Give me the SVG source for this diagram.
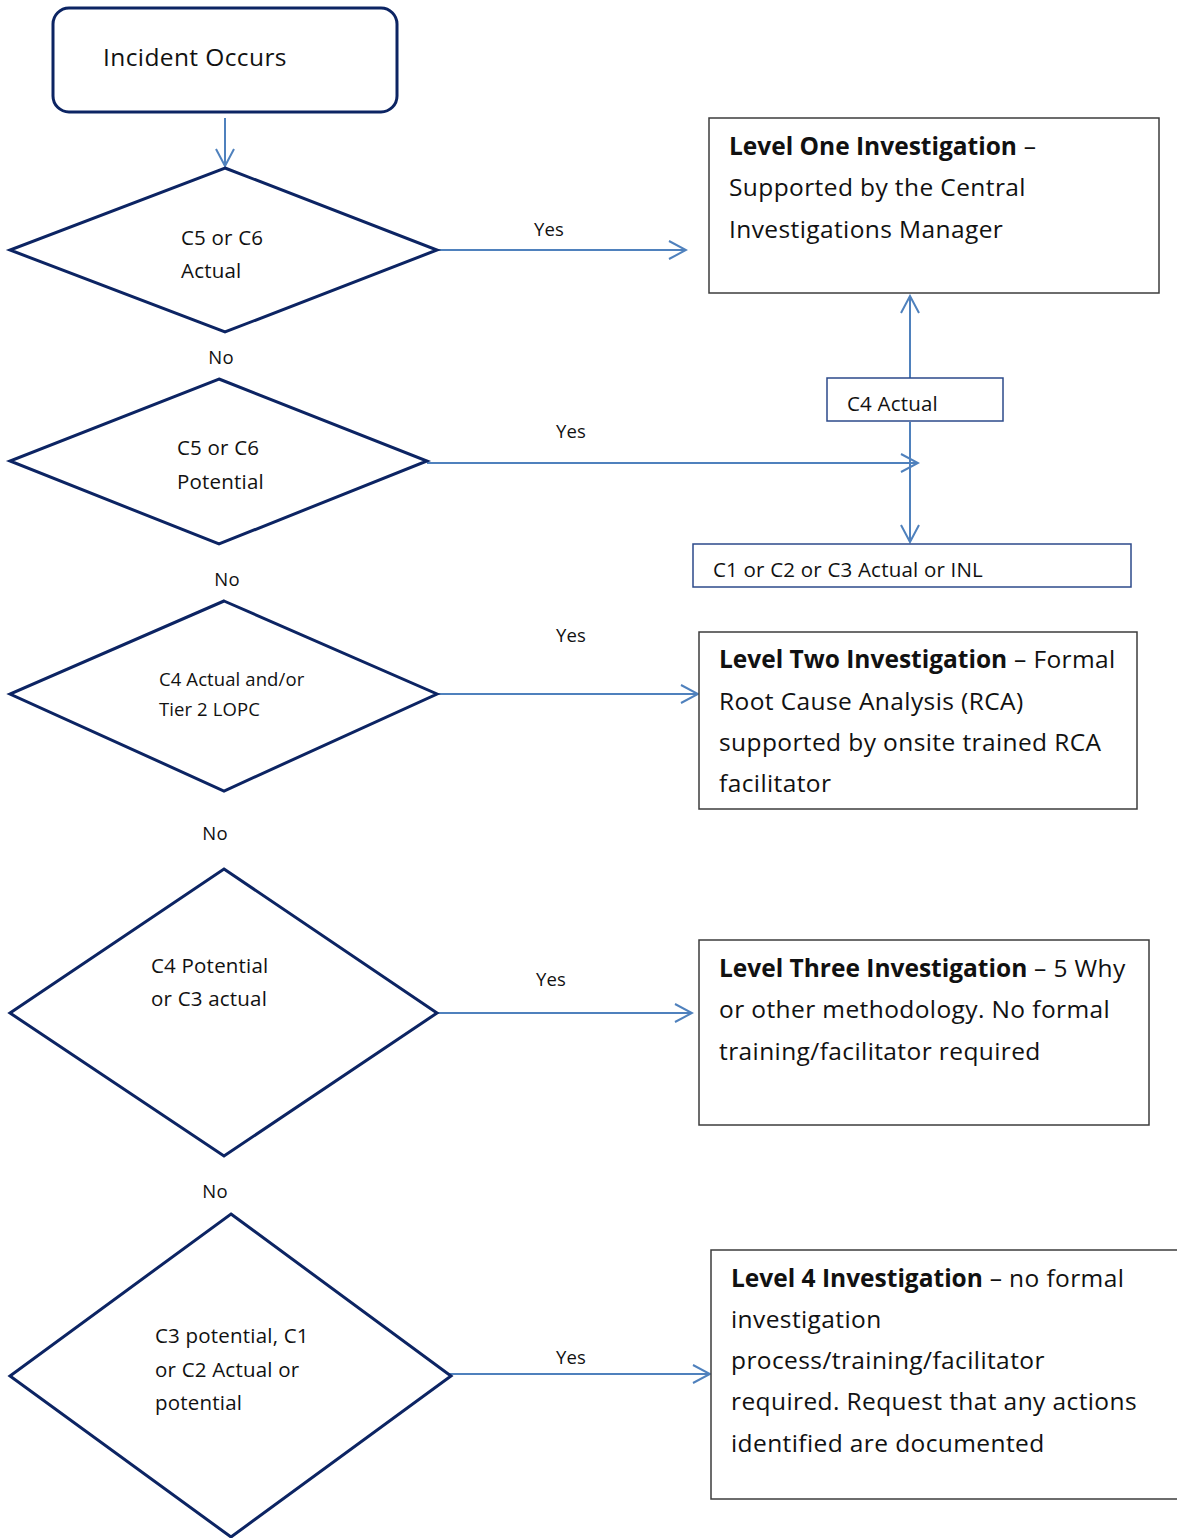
<svg xmlns="http://www.w3.org/2000/svg" width="1177" height="1538" viewBox="0 0 1177 1538">
<defs>
<style>
.t{font-family:"Open Sans",Lato,"Liberation Sans",sans-serif;fill:#111;}
.big{font-size:24.5px;letter-spacing:0.4px;}
.mid{font-size:20.5px;letter-spacing:0.2px;}
.sm{font-size:18.5px;letter-spacing:0.1px;}
.b{font-weight:bold;letter-spacing:0;}
.dia{fill:#fff;stroke:#0c2463;stroke-width:3;stroke-linejoin:miter;}
.box{fill:#fff;stroke:#3c3c3c;stroke-width:1.5;}
.nbox{fill:#fff;stroke:#2c4a8a;stroke-width:1.5;}
.con{fill:none;stroke:#4f81bd;stroke-width:2;}
</style>
<marker id="ah" viewBox="0 0 20 20" refX="18" refY="10" markerWidth="20" markerHeight="20" markerUnits="userSpaceOnUse" orient="auto">
<path d="M1,1 L18,10 L1,19" fill="none" stroke="#4f81bd" stroke-width="2"/>
</marker>
</defs>
<rect width="1177" height="1538" fill="#fff"/>

<g id="connectors">
<line class="con" x1="225" y1="118" x2="225" y2="166" marker-end="url(#ah)"/>
<line class="con" x1="437" y1="250" x2="686" y2="250" marker-end="url(#ah)"/>
<line class="con" x1="427" y1="463" x2="918" y2="463" marker-end="url(#ah)"/>
<line class="con" x1="910" y1="378" x2="910" y2="296" marker-end="url(#ah)"/>
<line class="con" x1="910" y1="422" x2="910" y2="542" marker-end="url(#ah)"/>
<line class="con" x1="437" y1="694" x2="698" y2="694" marker-end="url(#ah)"/>
<line class="con" x1="437" y1="1013" x2="692" y2="1013" marker-end="url(#ah)"/>
<line class="con" x1="440" y1="1374" x2="710" y2="1374" marker-end="url(#ah)"/>
<text class="t sm" x="549" y="236" text-anchor="middle">Yes</text>
<text class="t sm" x="571" y="438" text-anchor="middle">Yes</text>
<text class="t sm" x="571" y="642" text-anchor="middle">Yes</text>
<text class="t sm" x="551" y="986" text-anchor="middle">Yes</text>
<text class="t sm" x="571" y="1364" text-anchor="middle">Yes</text>
<text class="t sm" x="221" y="364" text-anchor="middle">No</text>
<text class="t sm" x="227" y="586" text-anchor="middle">No</text>
<text class="t sm" x="215" y="840" text-anchor="middle">No</text>
<text class="t sm" x="215" y="1198" text-anchor="middle">No</text>
</g>

<g id="start">
<rect x="53" y="8" width="344" height="104" rx="16" fill="#fff" stroke="#0c2463" stroke-width="3"/>
<text class="t big" x="103" y="66">Incident Occurs</text>
</g>

<g id="d1">
<polygon class="dia" points="225,168 437,250 225,332 10,250"/>
<text class="t mid" x="181" y="245">C5 or C6</text>
<text class="t mid" x="181" y="278">Actual</text>
</g>

<g id="d2">
<polygon class="dia" points="219,379 427,461 219,544 10,461"/>
<text class="t mid" x="177" y="455">C5 or C6</text>
<text class="t mid" x="177" y="489">Potential</text>
</g>

<g id="d3">
<polygon class="dia" points="224,601 437,694 224,791 10,694"/>
<text class="t sm" x="159" y="686">C4 Actual and/or</text>
<text class="t sm" x="159" y="716">Tier 2 LOPC</text>
</g>

<g id="d4">
<polygon class="dia" points="224,869 437,1013 224,1156 10,1013"/>
<text class="t mid" x="151" y="973">C4 Potential</text>
<text class="t mid" x="151" y="1006">or C3 actual</text>
</g>

<g id="d5">
<polygon class="dia" points="231,1214 451,1376 231,1537 10,1376"/>
<text class="t mid" x="155" y="1343">C3 potential, C1</text>
<text class="t mid" x="155" y="1377">or C2 Actual or</text>
<text class="t mid" x="155" y="1410">potential</text>
</g>

<g id="l1">
<rect class="box" x="709" y="118" width="450" height="175"/>
<text class="t big" x="729" y="155"><tspan class="b">Level One Investigation</tspan> –</text>
<text class="t big" x="729" y="196">Supported by the Central</text>
<text class="t big" x="729" y="238">Investigations Manager</text>
</g>

<g id="c4">
<rect class="nbox" x="827" y="378" width="176" height="43"/>
<text class="t mid" x="847" y="411">C4 Actual</text>
</g>

<g id="c123">
<rect class="nbox" x="693" y="544" width="438" height="43"/>
<text class="t mid" x="713" y="577">C1 or C2 or C3 Actual or INL</text>
</g>

<g id="l2">
<rect class="box" x="699" y="632" width="438" height="177"/>
<text class="t big" x="719" y="668"><tspan class="b">Level Two Investigation</tspan> – Formal</text>
<text class="t big" x="719" y="710">Root Cause Analysis (RCA)</text>
<text class="t big" x="719" y="751">supported by onsite trained RCA</text>
<text class="t big" x="719" y="792">facilitator</text>
</g>

<g id="l3">
<rect class="box" x="699" y="940" width="450" height="185"/>
<text class="t big" x="719" y="977"><tspan class="b">Level Three Investigation</tspan> – 5 Why</text>
<text class="t big" x="719" y="1018">or other methodology. No formal</text>
<text class="t big" x="719" y="1060">training/facilitator required</text>
</g>

<g id="l4">
<rect class="box" x="711" y="1250" width="480" height="249"/>
<text class="t big" x="731" y="1287"><tspan class="b">Level 4 Investigation</tspan> – no formal</text>
<text class="t big" x="731" y="1328">investigation</text>
<text class="t big" x="731" y="1369">process/training/facilitator</text>
<text class="t big" x="731" y="1410">required. Request that any actions</text>
<text class="t big" x="731" y="1452">identified are documented</text>
</g>
</svg>
